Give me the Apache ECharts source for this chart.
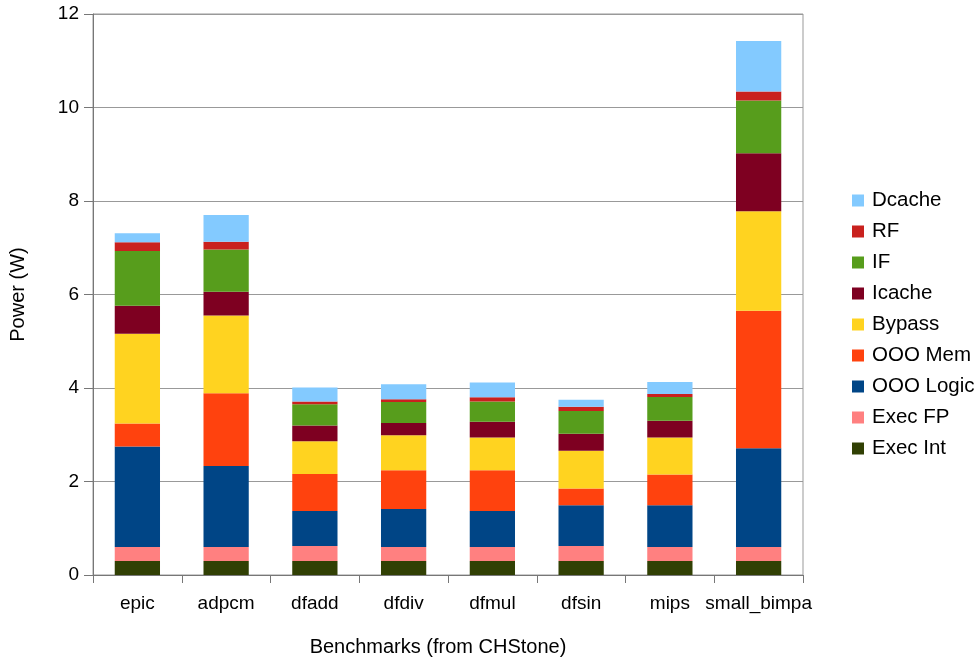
<!DOCTYPE html>
<html>
<head>
<meta charset="utf-8">
<script src="https://cdn.jsdelivr.net/npm/echarts@6/dist/echarts.min.js"></script>
<style>
html,body{margin:0;padding:0;background:#fff;}
#chart{width:978px;height:662px;}
</style>
</head>
<body>
<div id="chart"></div>
<script>
var categories = ['epic','adpcm','dfadd','dfdiv','dfmul','dfsin','mips','small_bimpa'];
var execInt  = [0.30,0.30,0.30,0.30,0.30,0.30,0.30,0.30];
var execFP   = [0.30,0.30,0.32,0.30,0.30,0.32,0.30,0.30];
var oooLogic = [2.15,1.73,0.75,0.81,0.77,0.87,0.89,2.11];
var oooMem   = [0.49,1.56,0.79,0.83,0.87,0.36,0.66,2.94];
var bypass   = [1.92,1.66,0.70,0.75,0.70,0.81,0.79,2.13];
var icache   = [0.60,0.51,0.34,0.26,0.34,0.36,0.36,1.24];
var ifetch   = [1.17,0.90,0.45,0.45,0.43,0.49,0.51,1.13];
var rf       = [0.19,0.17,0.06,0.06,0.09,0.09,0.06,0.19];
var dcache   = [0.19,0.57,0.30,0.32,0.32,0.15,0.26,1.08];
var yTicks = [0,2,4,6,8,10,12];

var seriesDefs = [
  ['Exec Int', execInt, '#314004'],
  ['Exec FP', execFP, '#ff8080'],
  ['OOO Logic', oooLogic, '#004586'],
  ['OOO Mem', oooMem, '#ff420e'],
  ['Bypass', bypass, '#ffd320'],
  ['Icache', icache, '#7e0021'],
  ['IF', ifetch, '#579d1c'],
  ['RF', rf, '#c9211e'],
  ['Dcache', dcache, '#83caff']
];

var font = '"Liberation Sans", Arial, sans-serif';
var chart = echarts.init(document.getElementById('chart'), null, {renderer:'canvas'});
chart.setOption({
  animation: false,
  backgroundColor: '#ffffff',
  textStyle: {fontFamily: font, color: '#000'},
  grid: {left: 93, right: 175, top: 14, bottom: 85, show: true, borderColor: '#999', borderWidth: 1, backgroundColor: 'transparent'},
  legend: {
    orient: 'vertical', left: 852, top: 190, padding: 0,
    itemWidth: 12, itemHeight: 12, itemGap: 10,
    icon: 'rect',
    data: seriesDefs.map(function(d){return d[0];}).reverse(),
    textStyle: {fontFamily: font, fontSize: 20.5, color: '#000', padding: [0,0,0,3]}
  },
  xAxis: {
    type: 'category', data: categories,
    name: 'Benchmarks (from CHStone)', nameLocation: 'middle', nameGap: 62,
    nameTextStyle: {fontFamily: font, fontSize: 20, color: '#000', padding: [0,20,0,0]},
    axisLine: {lineStyle: {color: '#777', width: 1}},
    axisTick: {show: true, length: 8, lineStyle: {color: '#777'}},
    axisLabel: {fontFamily: font, fontSize: 19, color: '#000', margin: 19, interval: 0}
  },
  yAxis: {
    type: 'value', min: yTicks[0], max: yTicks[yTicks.length-1], interval: 2,
    name: 'Power (W)', nameLocation: 'middle', nameGap: 65,
    nameTextStyle: {fontFamily: font, fontSize: 20, color: '#000'},
    axisLine: {show: true, lineStyle: {color: '#777', width: 1}},
    axisTick: {show: true, length: 9, lineStyle: {color: '#777'}},
    axisLabel: {fontFamily: font, fontSize: 19, color: '#000', margin: 14},
    splitLine: {show: true, lineStyle: {color: '#999', width: 1}}
  },
  series: seriesDefs.map(function(d){
    return {
      name: d[0], type: 'bar', stack: 'total', data: d[1],
      barCategoryGap: '49%',
      itemStyle: {color: d[2]},
      emphasis: {disabled: true}
    };
  })
});
</script>
</body>
</html>
